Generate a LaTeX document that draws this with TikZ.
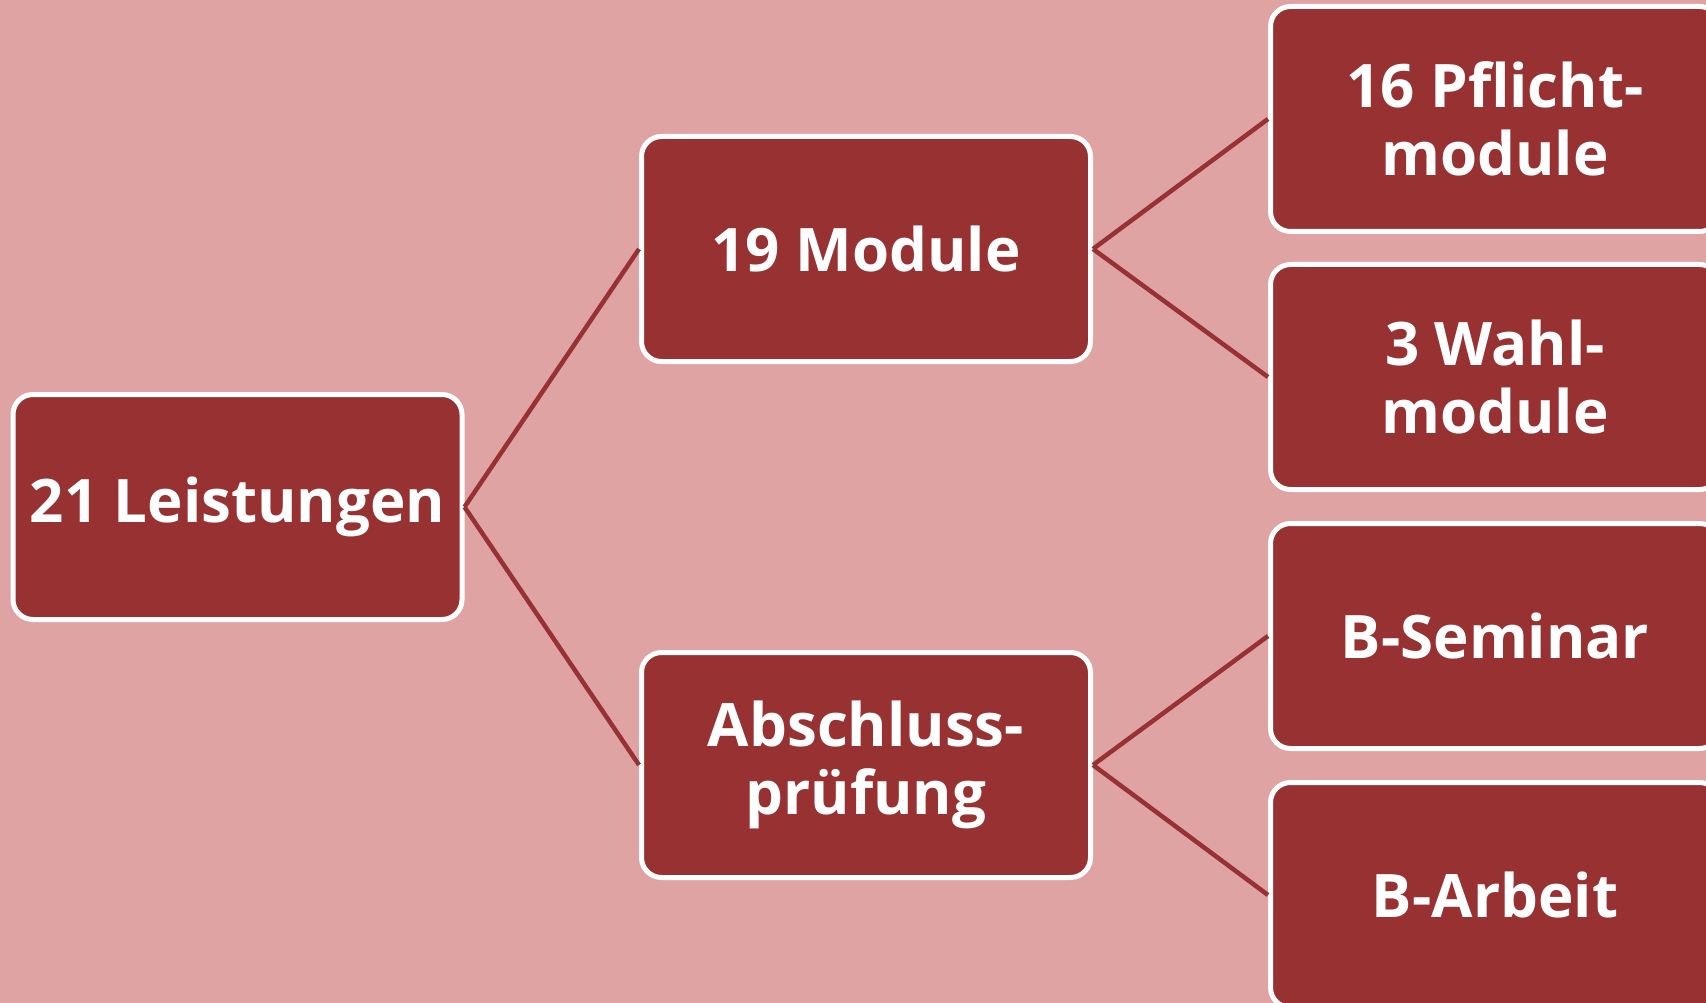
\documentclass[tikz,border=0pt]{standalone}
\usepackage{fontspec}
\setmainfont{Open Sans}
\definecolor{bgpink}{HTML}{DFA3A3}
\definecolor{boxred}{HTML}{983132}
\begin{document}
\begin{tikzpicture}[x=1pt,y=-1pt,
  box/.style={rectangle, rounded corners=20pt, fill=boxred, draw=white, line width=5pt,
    minimum width=449pt, minimum height=225pt, inner sep=0pt, align=center,
    text=white, font=\fontsize{60}{68}\selectfont\bfseries},
  link/.style={draw=boxred, line width=4.5pt}]
\useasboundingbox (0,0) rectangle (1706,1003);
\clip (0,0) rectangle (1706,1003);
\fill[bgpink] (0,0) rectangle (1706,1003);
\node[box] (root) at (237.5,507) {21 Leistungen};
\node[box] (mod) at (866,249) {19 Module};
\node[box] (abs) at (866,765) {Abschluss-\\prüfung};
\node[box] (b1) at (1495,119) {16 Pflicht-\\module};
\node[box] (b2) at (1495,377) {3 Wahl-\\module};
\node[box] (b3) at (1495,636) {B-Seminar};
\node[box] (b4) at (1495,895) {B-Arbeit};
\draw[link] (root.east) -- (mod.west);
\draw[link] (root.east) -- (abs.west);
\draw[link] (mod.east) -- (b1.west);
\draw[link] (mod.east) -- (b2.west);
\draw[link] (abs.east) -- (b3.west);
\draw[link] (abs.east) -- (b4.west);
\end{tikzpicture}
\end{document}
